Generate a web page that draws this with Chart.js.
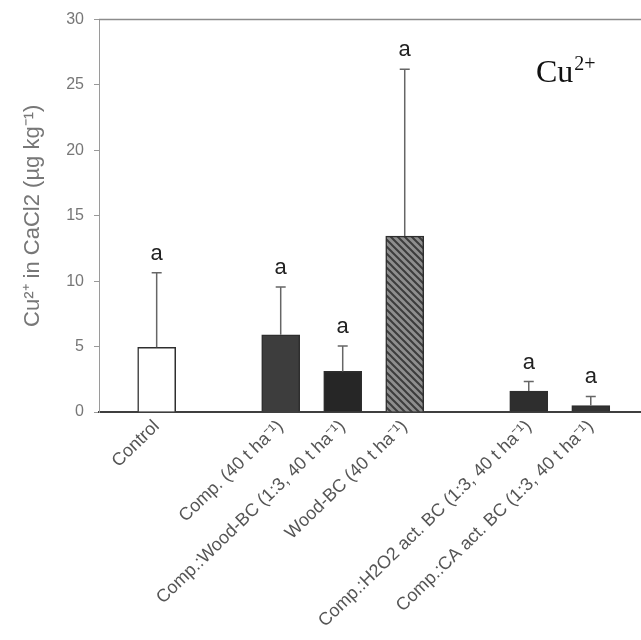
<!DOCTYPE html>
<html>
<head>
<meta charset="utf-8">
<script src="https://cdn.jsdelivr.net/npm/chart.js@4/dist/chart.umd.min.js"></script>
<style>
  html, body { margin: 0; padding: 0; background: #ffffff; }
  #wrap { width: 641px; height: 640px; }
</style>
</head>
<body>
<div id="wrap"><canvas id="cv" width="641" height="640"></canvas></div>
<script>
// Treatments, their slot on the x axis (gaps separate the groups), means and SD
const categories = [
  'Control',
  'Comp. (40 t ha⁻¹)',
  'Comp.:Wood-BC (1:3, 40 t ha⁻¹)',
  'Wood-BC (40 t ha⁻¹)',
  'Comp.:H2O2 act. BC (1:3, 40 t ha⁻¹)',
  'Comp.:CA act. BC (1:3, 40 t ha⁻¹)'
];
const slots = [1, 3, 4, 5, 7, 8];
const means = [4.95, 5.9, 3.1, 13.45, 1.6, 0.5];
const sdUpper = [5.7, 3.65, 1.95, 12.75, 0.73, 0.69];
const letters = ['a', 'a', 'a', 'a', 'a', 'a'];
const yTicks = [0, 5, 10, 15, 20, 25, 30];

const SANS = '"Liberation Sans", Arial, Helvetica, sans-serif';

// diagonal hatch used for the wood biochar bar
function hatch() {
  const c = document.createElement('canvas');
  c.width = 7; c.height = 7;
  const g = c.getContext('2d');
  g.fillStyle = '#8e8e8e';
  g.fillRect(0, 0, 7, 7);
  g.strokeStyle = '#3c3c3c';
  g.lineWidth = 2;
  g.beginPath();
  g.moveTo(-1, -1); g.lineTo(8, 8);
  g.moveTo(-1, 6); g.lineTo(1, 8);
  g.moveTo(6, -1); g.lineTo(8, 1);
  g.stroke();
  return g.createPattern(c, 'repeat');
}

const ctx = document.getElementById('cv').getContext('2d');
const fills = ['#ffffff', '#3d3d3d', '#262626', hatch(), '#2e2e2e', '#333333'];

const errorBars = {
  id: 'errorBars',
  afterDatasetsDraw(chart) {
    const { ctx, scales: { x, y }, chartArea } = chart;
    ctx.save();
    means.forEach((m, i) => {
      const px = x.getPixelForValue(slots[i]);
      const y0 = y.getPixelForValue(m);
      const y1 = y.getPixelForValue(m + sdUpper[i]);
      ctx.strokeStyle = '#666666';
      ctx.lineWidth = 1.5;
      ctx.beginPath();
      ctx.moveTo(px, y0); ctx.lineTo(px, y1);
      ctx.moveTo(px - 5, y1); ctx.lineTo(px + 5, y1);
      ctx.stroke();
      ctx.fillStyle = '#222222';
      ctx.font = '22px ' + SANS;
      ctx.textAlign = 'center';
      ctx.textBaseline = 'middle';
      ctx.fillText(letters[i], px, y1 - 19);
    });
    // frame line along the top of the plot
    ctx.strokeStyle = '#8c8c8c';
    ctx.lineWidth = 1.5;
    ctx.beginPath();
    ctx.moveTo(chartArea.left, chartArea.top);
    ctx.lineTo(chartArea.right, chartArea.top);
    ctx.stroke();
    // ion label
    ctx.fillStyle = '#111111';
    ctx.textAlign = 'left';
    ctx.textBaseline = 'alphabetic';
    ctx.font = '32px "Liberation Serif", "DejaVu Serif", serif';
    const bx = chartArea.right - 105, by = chartArea.top + 62;
    ctx.fillText('Cu', bx, by);
    const w = ctx.measureText('Cu').width;
    ctx.font = '20px "Liberation Serif", "DejaVu Serif", serif';
    ctx.fillText('2+', bx + w + 1, by - 12);
    ctx.restore();
  }
};

new Chart(ctx, {
  type: 'bar',
  data: {
    datasets: [{
      data: slots.map((s, i) => ({ x: s, y: means[i] })),
      backgroundColor: fills,
      borderColor: '#2e2e2e',
      borderWidth: 1.5,
      barThickness: 38
    }]
  },
  options: {
    responsive: false,
    animation: false,
    events: [],
    layout: { padding: { top: 18, right: 0, left: 0, bottom: 0 } },
    plugins: { legend: { display: false }, tooltip: { enabled: false } },
    scales: {
      x: {
        type: 'linear',
        offset: false,
        min: 0.07,
        max: 8.81,
        afterBuildTicks(scale) { scale.ticks = slots.map(v => ({ value: v })); },
        afterFit(scale) { scale.height = 228; },
        grid: { display: false, drawTicks: false },
        border: { display: true, color: '#3f3f3f', width: 2 },
        ticks: {
          autoSkip: false,
          minRotation: 44,
          maxRotation: 44,
          padding: 4,
          color: '#555555',
          font: { family: SANS, size: 18 },
          callback(value) { return categories[slots.indexOf(value)]; }
        }
      },
      y: {
        min: 0,
        max: 30,
        afterBuildTicks(scale) { scale.ticks = yTicks.map(v => ({ value: v })); },
        afterFit(scale) { scale.width = 99; },
        grid: { drawOnChartArea: false, drawTicks: true, tickLength: 5, color: '#999999' },
        border: { display: true, color: '#9a9a9a', width: 1 },
        ticks: {
          padding: 10,
          color: '#777777',
          font: { family: SANS, size: 16 }
        },
        title: {
          display: true,
          text: 'Cu²⁺ in CaCl2 (µg kg⁻¹)',
          color: '#777777',
          font: { family: SANS, size: 22 },
          padding: { top: 20, bottom: 0 }
        }
      }
    }
  },
  plugins: [errorBars]
});
</script>
</body>
</html>
